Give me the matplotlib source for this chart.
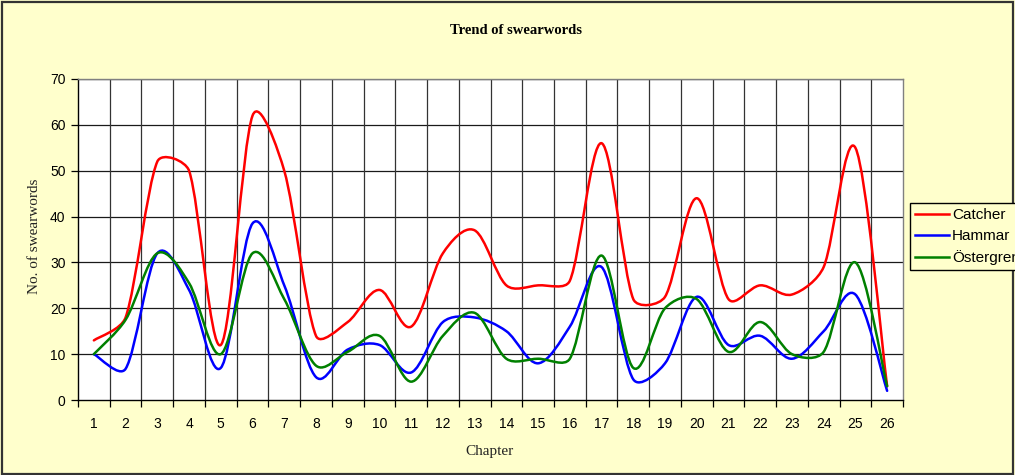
import matplotlib
matplotlib.use("Agg")
import matplotlib.pyplot as plt
from matplotlib.path import Path
from matplotlib.patches import PathPatch, Rectangle
from matplotlib.lines import Line2D
import numpy as np

chapters = list(range(1, 27))
catcher = [13, 18, 52, 50, 12, 62, 50, 14, 17, 24, 16, 32, 37, 25, 25, 26, 56, 22, 22.5, 44, 22, 25, 23, 29, 55, 3]
hammar = [10, 6.8, 32, 24, 7, 38.5, 25, 5, 11, 12, 6, 17, 18, 15, 8, 16, 29, 4.5, 8, 22.5, 12, 14, 9, 15, 23, 2]
ostergren = [10, 17.5, 32, 25.5, 10, 32, 22, 7.5, 10.5, 14, 4, 14, 19, 9, 9, 9, 31.5, 7, 20, 22, 10.5, 17, 10, 10.5, 30, 3]
series_names = ["Catcher", "Hammar", "Östergren"]
series_colors = ["#FF0000", "#0000FF", "#008000"]

BG = "#FFFFCC"
W, H = 1015, 475
AX_L, AX_R, AX_T, AX_B = 78, 903, 79, 400
XMIN, XMAX, YMIN, YMAX = 0.5, 26.5, 0, 70

fig = plt.figure(figsize=(W / 100, H / 100), dpi=100, facecolor=BG)
ax = fig.add_axes([AX_L / W, 1 - AX_B / H, (AX_R - AX_L) / W, (AX_B - AX_T) / H])
ax.set_facecolor("white")

SX = (AX_R - AX_L) / (XMAX - XMIN)
SY = (AX_B - AX_T) / (YMAX - YMIN)
ARM_CAP = 1 / 3


def smooth_path(xs, ys):
    """Smoothed line: Bezier segments with capped control arms (screen space)."""
    pts = np.column_stack([np.asarray(xs, float) * SX, np.asarray(ys, float) * SY])
    n = len(pts)
    verts = [pts[0]]
    codes = [Path.MOVETO]
    for i in range(n - 1):
        p0 = pts[i - 1] if i > 0 else pts[i]
        p1 = pts[i]
        p2 = pts[i + 1]
        p3 = pts[i + 2] if i + 2 < n else pts[i + 1]
        d02 = np.hypot(*(p2 - p0))
        d12 = np.hypot(*(p2 - p1))
        d13 = np.hypot(*(p3 - p1))
        f1 = min(1 / 6, ARM_CAP * d12 / d02) if d02 > 0 else 0
        f2 = min(1 / 6, ARM_CAP * d12 / d13) if d13 > 0 else 0
        c1 = p1 + (p2 - p0) * f1
        c2 = p2 - (p3 - p1) * f2
        verts += [c1, c2, p2]
        codes += [Path.CURVE4] * 3
    verts = np.array(verts)
    verts[:, 0] /= SX
    verts[:, 1] /= SY
    return Path(verts, codes)


for vals, col in zip([catcher, hammar, ostergren], series_colors):
    patch = PathPatch(smooth_path(chapters, vals), facecolor="none", edgecolor=col,
                      lw=1.8, zorder=3, capstyle="round", joinstyle="round")
    ax.add_patch(patch)

ax.set_xlim(XMIN, XMAX)
ax.set_ylim(YMIN, YMAX)

# grid
for yv in range(10, 71, 10):
    ax.axhline(yv, color="#1a1a1a", lw=0.9, zorder=1)
for xv in np.arange(1.5, 26.5, 1.0):
    ax.axvline(xv, color="#333333", lw=0.9, zorder=1)

ax.set_yticks(range(0, 71, 10))
ax.set_xticks(np.arange(0.5, 27, 1.0))
ax.set_xticklabels([])
ax.set_xticks(chapters, minor=True)
ax.set_xticklabels([str(c) for c in chapters], minor=True)
ax.tick_params(axis="x", which="major", length=5, width=0.9, direction="out", colors="black")
ax.tick_params(axis="x", which="minor", length=0, pad=12, labelsize=10)
ax.tick_params(axis="y", length=5, width=0.9, direction="out", pad=4, labelsize=10)
for lab in ax.get_xticklabels(minor=True) + ax.get_yticklabels():
    lab.set_fontfamily("Liberation Sans")

for s in ["left", "bottom"]:
    ax.spines[s].set_color("black")
    ax.spines[s].set_linewidth(1.0)
for s in ["top", "right"]:
    ax.spines[s].set_color("#808080")
    ax.spines[s].set_linewidth(1.0)

fig.text(516 / W, 1 - 30 / H, "Trend of swearwords", ha="center", va="center",
         fontsize=10.5, fontweight="bold", family="Liberation Serif")
fig.text(34 / W, 1 - 236 / H, "No. of swearwords", ha="center", va="center",
         rotation=90, fontsize=11, family="Liberation Serif", color="#222222")
fig.text(490 / W, 1 - 451 / H, "Chapter", ha="center", va="center",
         fontsize=11, family="Liberation Serif", color="#222222")

handles = [Line2D([], [], color=c, lw=1.8) for c in series_colors]
leg = fig.legend(handles, series_names, loc="upper left",
                 bbox_to_anchor=(910 / W, 1 - 203 / H), frameon=True, fancybox=False,
                 edgecolor="black", facecolor=BG, framealpha=1,
                 prop={"family": "Liberation Sans", "size": 11},
                 handlelength=2.2, handletextpad=0.2, borderpad=0.35,
                 labelspacing=0.45, borderaxespad=0)
leg.get_frame().set_linewidth(1.0)

fig.patches.append(Rectangle((0.002, 0.003), 0.996, 0.993, transform=fig.transFigure,
                             fill=False, edgecolor="#333333", lw=1.6))

fig.savefig("out.png", dpi=100, facecolor=BG)
